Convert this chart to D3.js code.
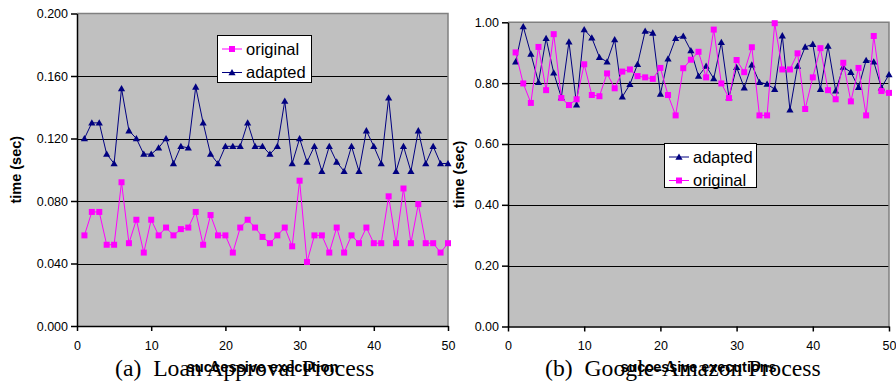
<!DOCTYPE html>
<html>
<head>
<meta charset="utf-8">
<script src="https://cdn.jsdelivr.net/npm/d3@7"></script>
<style>
  body { margin: 0; background: #fff; }
  svg { display: block; }
  .axis text { font-family: "Liberation Sans", Arial, sans-serif; font-size: 12.5px; fill: #000; }
</style>
</head>
<body>
<svg id="chart" width="896" height="388"></svg>
<script>
const executions = [1, 2, 3, 4, 5, 6, 7, 8, 9, 10, 11, 12, 13, 14, 15, 16, 17, 18, 19, 20,
  21, 22, 23, 24, 25, 26, 27, 28, 29, 30, 31, 32, 33, 34, 35, 36, 37, 38, 39, 40,
  41, 42, 43, 44, 45, 46, 47, 48, 49, 50];

const loanOriginal = [0.058, 0.073, 0.073, 0.052, 0.052, 0.092, 0.053, 0.068, 0.047, 0.068,
  0.058, 0.063, 0.058, 0.062, 0.063, 0.073, 0.052, 0.071, 0.058, 0.058,
  0.047, 0.063, 0.068, 0.063, 0.057, 0.053, 0.058, 0.063, 0.051, 0.093,
  0.041, 0.058, 0.058, 0.047, 0.063, 0.047, 0.058, 0.053, 0.063, 0.053,
  0.053, 0.083, 0.053, 0.088, 0.053, 0.078, 0.053, 0.053, 0.047, 0.053];

const loanAdapted = [0.120, 0.130, 0.130, 0.110, 0.104, 0.152, 0.125, 0.120, 0.110, 0.110,
  0.114, 0.120, 0.104, 0.115, 0.114, 0.153, 0.130, 0.110, 0.104, 0.115,
  0.115, 0.115, 0.130, 0.115, 0.115, 0.110, 0.115, 0.144, 0.104, 0.120,
  0.105, 0.115, 0.099, 0.115, 0.105, 0.099, 0.115, 0.099, 0.125, 0.115,
  0.104, 0.146, 0.099, 0.115, 0.099, 0.125, 0.104, 0.115, 0.104, 0.104];

const googleAdapted = [0.870, 0.986, 0.896, 0.803, 0.947, 0.834, 0.753, 0.936, 0.729, 0.976,
  0.949, 0.885, 0.870, 0.943, 0.755, 0.796, 0.862, 0.971, 0.965, 0.764,
  0.880, 0.947, 0.955, 0.907, 0.823, 0.856, 0.815, 0.934, 0.753, 0.852,
  0.785, 0.860, 0.803, 0.797, 0.780, 0.956, 0.712, 0.856, 0.919, 0.928,
  0.780, 0.922, 0.775, 0.853, 0.836, 0.786, 0.875, 0.870, 0.785, 0.828];

const googleOriginal = [0.901, 0.799, 0.735, 0.919, 0.777, 0.961, 0.751, 0.728, 0.747, 0.862,
  0.761, 0.757, 0.832, 0.783, 0.838, 0.845, 0.823, 0.819, 0.814, 0.850,
  0.761, 0.694, 0.849, 0.877, 0.903, 0.819, 0.976, 0.799, 0.751, 0.876,
  0.836, 0.918, 0.694, 0.694, 0.997, 0.845, 0.845, 0.898, 0.715, 0.819,
  0.915, 0.777, 0.747, 0.867, 0.740, 0.850, 0.694, 0.955, 0.774, 0.768];

const xTicks = [0, 10, 20, 30, 40, 50];
const loanTicks = [0, 0.04, 0.08, 0.12, 0.16, 0.2];
const googleTicks = [0, 0.2, 0.4, 0.6, 0.8, 1.0];

const MAGENTA = '#ff00ff';
const NAVY = '#000080';
const svg = d3.select('#chart');
const sans = '"Liberation Sans", Arial, sans-serif';

function trianglePath(s) {
  return `M0,${-s}L${s},${s * 0.75}L${-s},${s * 0.75}Z`;
}

function drawPanel(opt) {
  const g = svg.append('g');
  const x = d3.scaleLinear().domain([0, 50]).range([opt.left, opt.right]);
  const y = d3.scaleLinear().domain([0, opt.yTicks[opt.yTicks.length - 1]]).range([opt.bottom, opt.top]);

  g.append('rect')
    .attr('x', opt.left).attr('y', opt.top)
    .attr('width', opt.right - opt.left).attr('height', opt.bottom - opt.top)
    .attr('fill', '#c0c0c0');

  g.selectAll('.grid')
    .data(opt.yTicks.slice(1, -1))
    .enter().append('line')
    .attr('x1', opt.left).attr('x2', opt.right)
    .attr('y1', d => Math.round(y(d)) + 0.5).attr('y2', d => Math.round(y(d)) + 0.5)
    .attr('stroke', '#000').attr('stroke-width', 1);

  // top and right frame
  g.append('path')
    .attr('d', `M${opt.left},${opt.top}H${opt.right}V${opt.bottom}`)
    .attr('fill', 'none').attr('stroke', '#808080').attr('stroke-width', 1.5);

  const yAxis = d3.axisLeft(y).tickValues(opt.yTicks).tickFormat(d3.format(opt.fmt))
    .tickSize(6).tickSizeOuter(0).tickPadding(3);
  const ya = g.append('g').attr('class', 'axis')
    .attr('transform', `translate(${opt.left},0)`).call(yAxis);
  ya.selectAll('line, path').attr('stroke', '#000').attr('stroke-width', 1.5);

  const xAxis = d3.axisBottom(x).tickValues(xTicks).tickSize(5).tickSizeOuter(0).tickPadding(10);
  const xa = g.append('g').attr('class', 'axis')
    .attr('transform', `translate(0,${opt.bottom})`).call(xAxis);
  xa.selectAll('line, path').attr('stroke', '#000').attr('stroke-width', 1.5);

  const line = d3.line().x((d, i) => x(executions[i])).y(d => y(d));

  opt.series.forEach(s => {
    g.append('path').datum(s.values)
      .attr('d', line).attr('fill', 'none')
      .attr('stroke', s.color).attr('stroke-width', 1);
    if (s.marker === 'square') {
      g.selectAll(null).data(s.values).enter().append('rect')
        .attr('x', (d, i) => x(executions[i]) - 3).attr('y', d => y(d) - 3)
        .attr('width', 6).attr('height', 6).attr('fill', s.color);
    } else {
      g.selectAll(null).data(s.values).enter().append('path')
        .attr('transform', (d, i) => `translate(${x(executions[i])},${y(d)})`)
        .attr('d', trianglePath(3.6)).attr('fill', s.color);
    }
  });

  // y title
  g.append('text')
    .attr('transform', `translate(${opt.yTitleX},${(opt.top + opt.bottom) / 2}) rotate(-90)`)
    .attr('text-anchor', 'middle')
    .attr('font-family', sans).attr('font-weight', 'bold').attr('font-size', 14.5)
    .text('time (sec)');

  // legend
  const lg = g.append('g').attr('transform', `translate(${opt.legend.x},${opt.legend.y})`);
  lg.append('rect').attr('x', 0.5).attr('y', 0.5)
    .attr('width', opt.legend.w).attr('height', opt.legend.h)
    .attr('fill', '#fff').attr('stroke', '#000').attr('stroke-width', 1);
  opt.legend.order.forEach((s, i) => {
    const cy = 14 + i * 23.5;
    lg.append('line').attr('x1', 5).attr('x2', 25).attr('y1', cy).attr('y2', cy)
      .attr('stroke', s.color).attr('stroke-width', 1);
    if (s.marker === 'square') {
      lg.append('rect').attr('x', 12).attr('y', cy - 3).attr('width', 6).attr('height', 6).attr('fill', s.color);
    } else {
      lg.append('path').attr('transform', `translate(15,${cy})`).attr('d', trianglePath(3.6)).attr('fill', s.color);
    }
    lg.append('text').attr('x', 29).attr('y', cy).attr('dy', '0.35em')
      .attr('font-family', sans).attr('font-size', 16.5).text(s.name);
  });

  // caption under the panel, with the x title printed over it as in the original
  g.append('text')
    .attr('x', opt.captionX).attr('y', 376)
    .attr('font-family', '"Liberation Serif", "Times New Roman", serif').attr('font-size', 23.7)
    .style('white-space', 'pre')
    .text(opt.caption);

  g.append('text')
    .attr('x', (opt.left + opt.right) / 2).attr('y', 372)
    .attr('text-anchor', 'middle')
    .attr('font-family', sans).attr('font-weight', 'bold').attr('font-size', 14)
    .attr('textLength', opt.xTitleLen).attr('lengthAdjust', 'spacingAndGlyphs')
    .text(opt.xTitle);
}

const loanSeries = [
  { name: 'original', values: loanOriginal, color: MAGENTA, marker: 'square' },
  { name: 'adapted', values: loanAdapted, color: NAVY, marker: 'triangle' }
];
const googleSeries = [
  { name: 'adapted', values: googleAdapted, color: NAVY, marker: 'triangle' },
  { name: 'original', values: googleOriginal, color: MAGENTA, marker: 'square' }
];

drawPanel({
  left: 77, right: 448, top: 13.5, bottom: 326,
  yTicks: loanTicks, fmt: '.3f', yTitleX: 21,
  series: loanSeries,
  legend: { x: 217, y: 35, w: 94, h: 47, order: loanSeries },
  caption: '(a)  Loan Approval Process', captionX: 115,
  xTitle: 'successive execution', xTitleLen: 152
});

drawPanel({
  left: 508, right: 889, top: 22.3, bottom: 326.5,
  yTicks: googleTicks, fmt: '.2f', yTitleX: 464,
  series: googleSeries,
  legend: { x: 664, y: 143, w: 92, h: 44, order: googleSeries },
  caption: '(b)  Google-Amazon Process', captionX: 545,
  xTitle: 'successive executions', xTitleLen: 156
});
</script>
</body>
</html>
